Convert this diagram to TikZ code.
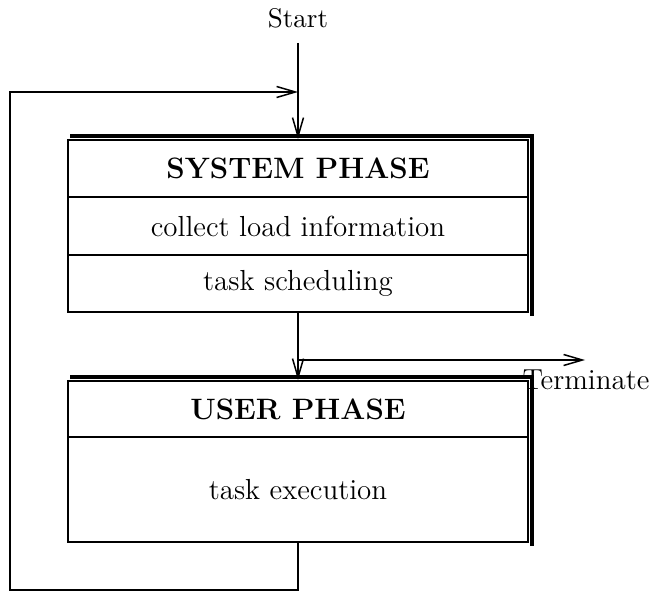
\documentclass[tikz,border=0pt]{standalone}
\usetikzlibrary{arrows.meta}
\begin{document}
\begin{tikzpicture}[x=0.4pt,y=-0.4pt,
  sect/.style={draw,line width=0.8pt,minimum width=184pt,inner sep=0pt,font=\fontsize{11.6}{13}\selectfont},
  head/.style={sect,font=\fontsize{11.8}{13}\selectfont\bfseries},
  conn/.style={line width=0.6pt,-{Straight Barb[length=7.5pt,width=4.4pt,line width=0.6pt]}},
  shadow/.style={line width=1.6pt},
  lbl/.style={font=\fontsize{11.6}{13}\selectfont,inner sep=0pt}]
\useasboundingbox (0,0) rectangle (650,591);
% system phase
\node[head,minimum height=22.8pt] (s1) at (298,168.5) {SYSTEM PHASE};
\node[sect,minimum height=23.2pt] (s2) at (298,226) {collect load information};
\node[sect,minimum height=22.8pt] (s3) at (298,283.5) {task scheduling};
\draw[shadow] (70,136) -- (532,136) -- (532,316);
% user phase
\node[head,minimum height=22.4pt] (u1) at (298,409) {USER PHASE};
\node[sect,minimum height=42pt] (u2) at (298,489.5) {task execution};
\draw[shadow] (70,377) -- (532,377) -- (532,546);
% labels
\node[lbl,font=\fontsize{10.8}{12}\selectfont] (start) at (298,18) {Start};
\node[lbl] (term) at (586,380) {Terminate};
\coordinate (st) at (298,43);
\coordinate (loopin) at (298,92);
\coordinate (tb) at (298,360);
\coordinate (te) at (585,360);
% connectors
\draw[conn] (st) -- (s1.north);
\draw[conn] (s3.south) -- (u1.north);
\draw[conn] (tb) -- (te);
\draw[conn] (u2.south) -- (298,590) -- (10,590) -- (10,92) -- (loopin);
\end{tikzpicture}
\end{document}
